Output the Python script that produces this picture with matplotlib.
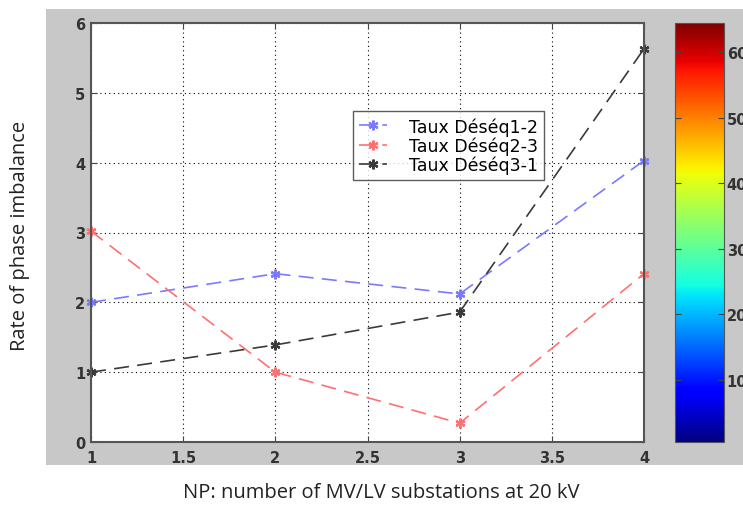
import numpy as np
import matplotlib
matplotlib.use("Agg")
import matplotlib.pyplot as plt
from matplotlib.patches import Rectangle
from matplotlib.cm import ScalarMappable
from matplotlib.colors import Normalize

np_sub = [1, 2, 3, 4]
deseq12 = [2.0, 2.41, 2.12, 4.03]
deseq23 = [3.02, 1.0, 0.27, 2.41]
deseq31 = [1.0, 1.39, 1.86, 5.63]
labels = ["Taux Déséq1-2", "Taux Déséq2-3", "Taux Déséq3-1"]
xticks = [1, 1.5, 2, 2.5, 3, 3.5, 4]
yticks = [0, 1, 2, 3, 4, 5, 6]
cb_ticks = [10, 20, 30, 40, 50, 60]

W, H = 743, 506
fig = plt.figure(figsize=(W / 100, H / 100), dpi=100, facecolor="white")

# grey matlab figure area
fig.patches.append(Rectangle((46 / W, (H - 466) / H), (W - 46) / W, (466 - 10) / H,
                             transform=fig.transFigure, facecolor="#c8c8c8",
                             edgecolor="none", zorder=-10))

ax = fig.add_axes([91 / W, (H - 443) / H, (644 - 91) / W, (443 - 24) / H])
ax.set_facecolor("white")

colors = ["#7a7aff", "#ff7070", "#3a3a3a"]
for ys, c, lab in zip([deseq12, deseq23, deseq31], colors, labels):
    ax.plot(np_sub, ys, color=c, linestyle=(0, (9, 5)), linewidth=1.2,
            marker=(6, 2, 0), markersize=7, markeredgewidth=1.6, label=lab,
            clip_on=False)

ax.set_xlim(1, 4)
ax.set_ylim(0, 6)
ax.set_xticks(xticks)
ax.set_xticklabels(["1", "1.5", "2", "2.5", "3", "3.5", "4"])
ax.set_yticks(yticks)
ax.grid(True, color="black", linestyle=(0, (1, 3)), linewidth=0.8)
ax.tick_params(direction="in", length=4, top=True, right=True, colors="#444444",
               labelcolor="#333333", labelsize=10.5, pad=4)
ax.tick_params(axis="x", pad=6)
for lab in ax.get_xticklabels() + ax.get_yticklabels():
    lab.set_fontweight("bold")
for s in ax.spines.values():
    s.set_color("#555555")
    s.set_linewidth(1.5)

leg = ax.legend(loc="upper left", bbox_to_anchor=(0.474, 0.79), borderaxespad=0,
                fontsize=12.5, frameon=True, fancybox=False, handlelength=1.6,
                labelspacing=0.05, borderpad=0.35, handletextpad=1.25)
leg.get_frame().set_edgecolor("#333333")
leg.get_frame().set_linewidth(1.0)

# colorbar
cax = fig.add_axes([675 / W, (H - 443) / H, 49 / W, (443 - 24) / H])
sm = ScalarMappable(norm=Normalize(0.5, 64.5), cmap="jet")
cb = fig.colorbar(sm, cax=cax, ticks=cb_ticks)
cb.outline.set_edgecolor("#555555")
cax.tick_params(direction="in", length=4, left=True, right=True, labelsize=10.5,
                labelcolor="#333333", colors="#444444", pad=2)
for lab in cax.get_yticklabels():
    lab.set_fontweight("bold")

fig.text(20 / W, 1 - 236 / H, "Rate of phase imbalance", rotation=90,
         ha="center", va="center", fontsize=14.5, family="Open Sans", color="#222222")
fig.text(381 / W, 1 - 493 / H, "NP: number of MV/LV substations at 20 kV",
         ha="center", va="center", fontsize=14.5, family="Open Sans", color="#222222")

fig.savefig("out.png", dpi=100, facecolor="white")
